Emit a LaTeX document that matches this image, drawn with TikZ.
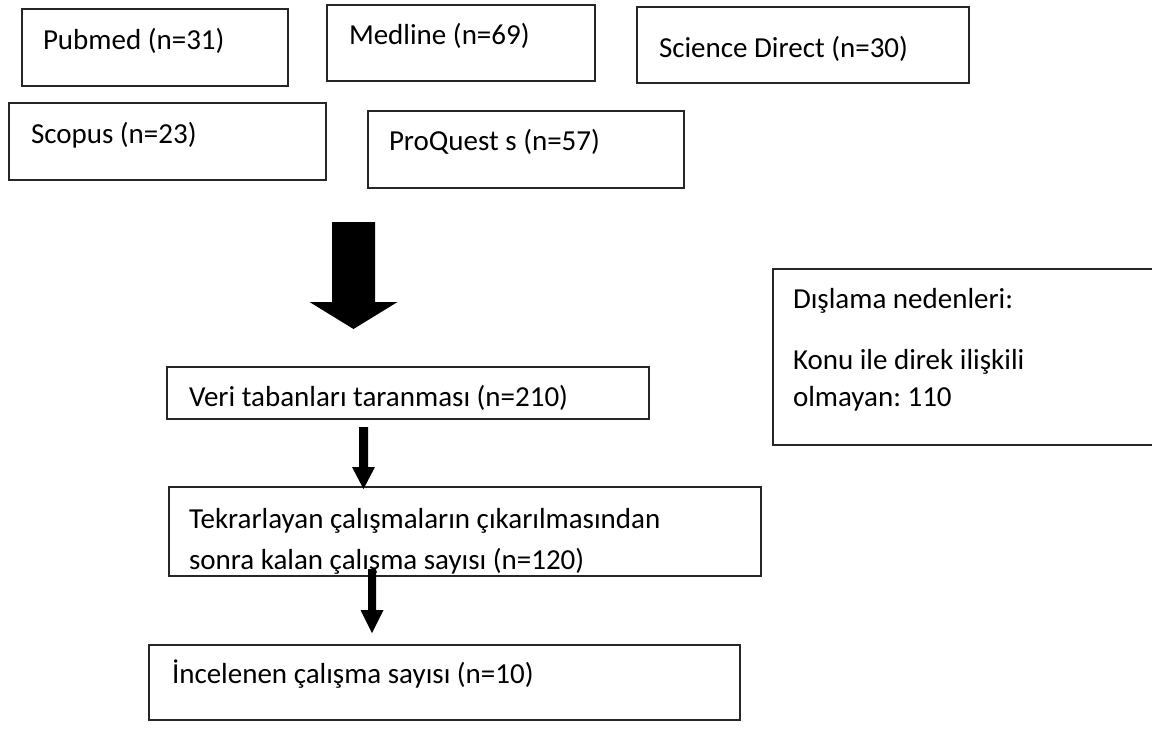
\documentclass[tikz,border=0pt]{standalone}
\usepackage{fontspec}
\setmainfont{Carlito}
\usetikzlibrary{calc}

% filled block arrow pointing down: #1 shaft start, #2 tip,
% #3 shaft half-width, #4 head half-width, #5 head length
\newcommand\blockarrow[5]{%
  \fill[arrowfill] ($(#1)+(-#3,0)$) -- ($(#2)+(-#3,-#5)$) -- ($(#2)+(-#4,-#5)$)
    -- (#2) -- ($(#2)+(#4,-#5)$) -- ($(#2)+(#3,-#5)$) -- ($(#1)+(#3,0)$) -- cycle;}

\begin{document}
\frenchspacing
\begin{tikzpicture}[x=1pt,y=-1pt,
  box/.style={draw=black!85, line width=1.6pt, inner sep=0pt, outer sep=0pt,
    anchor=north west, rectangle},
  openbox/.style={draw=none, inner sep=0pt, outer sep=0pt, anchor=north west, rectangle},
  boxline/.style={draw=black!85, line width=1.6pt},
  txt/.style={anchor=base west, inner sep=0pt, outer sep=0pt,
    font=\fontsize{29}{37}\selectfont, align=left},
  arrowfill/.style={fill=black}]
\useasboundingbox (0,0) rectangle (1152,734);

% database boxes
\node[box, minimum width=266pt, minimum height=77pt] (pubmed) at (22,9) {};
\node[txt] (pubmedt) at (43,49) {Pubmed (n=31)};
\node[box, minimum width=268pt, minimum height=76pt] (medline) at (327,5) {};
\node[txt] (medlinet) at (349,44) {Medline (n=69)};
\node[box, minimum width=332pt, minimum height=76pt] (scidir) at (637,7) {};
\node[txt] (scidirt) at (659,57) {Science Direct (n=30)};
\node[box, minimum width=317pt, minimum height=77pt] (scopus) at (9,103) {};
\node[txt] (scopust) at (31,143) {Scopus (n=23)};
\node[box, minimum width=316pt, minimum height=77pt] (proquest) at (368,111) {};
\node[txt] (proquestt) at (389,150) {ProQuest s (n=57)};

% exclusion box, running off the right edge
\node[openbox, minimum width=379pt, minimum height=176pt] (dislama) at (773,269) {};
\draw[boxline] (dislama.north east) -- (dislama.north west)
  -- (dislama.south west) -- (dislama.south east);
\node[txt] (dislamat1) at (793,308) {Dışlama nedenleri:};
\node[txt] (dislamat2) at (793,369) {Konu ile direk ilişkili};
\node[txt] (dislamat3) at (793,406) {olmayan: 110};

% flow boxes
\node[box, minimum width=482pt, minimum height=52pt] (veri) at (167,367) {};
\node[txt] (verit) at (189,406) {Veri tabanları taranması (n=210)};
\node[box, minimum width=592pt, minimum height=89pt] (tekrar) at (169,487) {};
\begin{scope}
  \clip (tekrar.north west) rectangle ($(tekrar.south east)+(0,-1)$);
  \node[txt] (tekrart1) at (189,528) {Tekrarlayan çalışmaların çıkarılmasından};
  \node[txt] (tekrart2) at (189,569) {sonra kalan çalışma sayısı (n=120)};
\end{scope}
\node[box, minimum width=591pt, minimum height=75pt] (incelenen) at (149,645) {};
\node[txt] (incelenent) at (172,683) {İncelenen çalışma sayısı (n=10)};

% connectors
\coordinate (bigs) at (353.5,222);
\coordinate (bigt) at (353.5,329);
\blockarrow{bigs}{bigt}{21.5}{44}{27}
\coordinate (a1s) at (363.5,427);
\coordinate (a1t) at (363.5,489);
\blockarrow{a1s}{a1t}{4.5}{11.5}{22}
\coordinate (a2s) at (372,569);
\coordinate (a2t) at (372,633);
\blockarrow{a2s}{a2t}{4}{11.5}{23}
\end{tikzpicture}
\end{document}
